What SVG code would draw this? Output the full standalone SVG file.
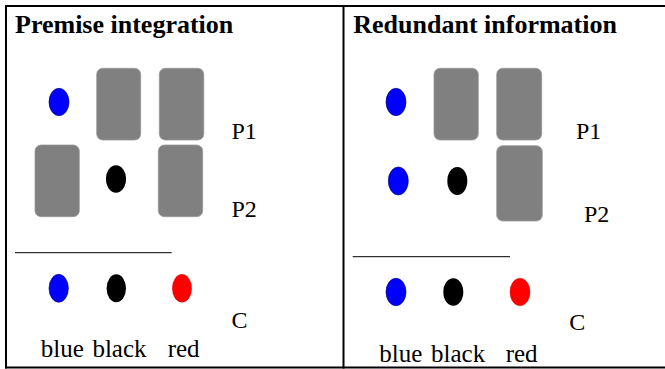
<svg xmlns="http://www.w3.org/2000/svg" width="665" height="369" viewBox="0 0 665 369">
<style>
.t{font-family:"Liberation Serif","Times New Roman",serif;fill:#000}
.h{font-weight:bold;font-size:26px}
.l{font-size:24px}
.w{font-size:25px;word-spacing:2.4px}
.card{fill:#808080;stroke:#9a9a9a;stroke-width:0.8}
.b{stroke:#000;stroke-width:2;fill:none}
.rule{stroke:#000;stroke-width:1;fill:none}
.blue{fill:#0000ff;stroke:#000060;stroke-width:0.6}
.black{fill:#000}
.red{fill:#ff0000;stroke:#d00000;stroke-width:0.4}
</style>
<rect width="665" height="369" fill="#fff"/>
<g id="table">
<line class="b" x1="5" y1="6" x2="665" y2="6"/>
<line class="b" x1="5" y1="367.5" x2="665" y2="367.5"/>
<line class="b" x1="6" y1="5" x2="6" y2="368.5"/>
<line class="b" x1="343.5" y1="6" x2="343.5" y2="368.5"/>
</g>
<g id="left-panel">
<text class="t h" x="15" y="33">Premise integration</text>
<g id="L-blue1"><ellipse class="blue" cx="59" cy="102" rx="10" ry="13.7"/></g>
<g id="L-card1"><rect class="card" x="96.7" y="68.3" width="44" height="71.7" rx="6"/></g>
<g id="L-card2"><rect class="card" x="159.3" y="68.3" width="44.5" height="71.7" rx="6"/></g>
<text class="t l" x="231.5" y="139">P1</text>
<g id="L-card3"><rect class="card" x="35" y="145" width="44.3" height="71.7" rx="6"/></g>
<g id="L-black1"><ellipse class="black" cx="116" cy="179" rx="10" ry="13.7"/></g>
<g id="L-card4"><rect class="card" x="158.3" y="145" width="44.4" height="71.7" rx="6"/></g>
<text class="t l" x="231.5" y="217">P2</text>
<line class="rule" x1="15" y1="252.7" x2="171.7" y2="252.7"/>
<g id="L-c-blue"><ellipse class="blue" cx="58.7" cy="288.3" rx="9.7" ry="14"/></g>
<g id="L-c-black"><ellipse class="black" cx="116.3" cy="288.3" rx="9.7" ry="14"/></g>
<g id="L-c-red"><ellipse class="red" cx="182" cy="288.3" rx="9.7" ry="14"/></g>
<text class="t l" x="231.5" y="328.3">C</text>
<text class="t w" x="40.7" y="357.3">blue black</text>
<text class="t w" x="167.7" y="357.3">red</text>
</g>
<g id="right-panel">
<text class="t h" x="353.3" y="32.5">Redundant information</text>
<g id="R-blue1"><ellipse class="blue" cx="396" cy="102" rx="10" ry="13.7"/></g>
<g id="R-card1"><rect class="card" x="434" y="68.3" width="44.3" height="71.7" rx="6"/></g>
<g id="R-card2"><rect class="card" x="496.7" y="68.3" width="45" height="71.7" rx="6"/></g>
<text class="t l" x="576" y="139.3">P1</text>
<g id="R-blue2"><ellipse class="blue" cx="398.3" cy="181" rx="10" ry="14"/></g>
<g id="R-black1"><ellipse class="black" cx="457.3" cy="181" rx="10" ry="14"/></g>
<g id="R-card3"><rect class="card" x="496.7" y="145.7" width="45.6" height="75.3" rx="6"/></g>
<text class="t l" x="584" y="221.7">P2</text>
<line class="rule" x1="352.7" y1="256.7" x2="510" y2="256.7"/>
<g id="R-c-blue"><ellipse class="blue" cx="396" cy="292" rx="10" ry="13.8"/></g>
<g id="R-c-black"><ellipse class="black" cx="453.3" cy="292" rx="10" ry="13.8"/></g>
<g id="R-c-red"><ellipse class="red" cx="520" cy="292" rx="10" ry="13.8"/></g>
<text class="t l" x="569.3" y="330">C</text>
<text class="t w" x="379.3" y="361.7">blue black</text>
<text class="t w" x="505.7" y="361.7">red</text>
</g>
</svg>
